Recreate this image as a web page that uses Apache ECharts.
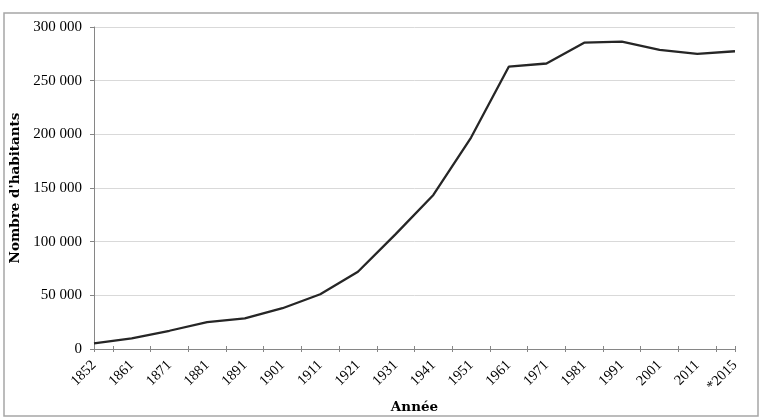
<!DOCTYPE html>
<html>
<head>
<meta charset="utf-8">
<script src="https://cdn.jsdelivr.net/npm/echarts@6/dist/echarts.min.js"></script>
<style>
  html, body { margin: 0; padding: 0; background: #fff; }
  #chart { width: 760px; height: 418px; }
</style>
</head>
<body>
<div id="chart"></div>
<script>
// années du recensement
var annees = ["1852", "1861", "1871", "1881", "1891", "1901", "1911", "1921", "1931",
  "1941", "1951", "1961", "1971", "1981", "1991", "2001", "2011", "*2015"];
// nombre d'habitants
var habitants = [5300, 10000, 17000, 25000, 28500, 38000, 51000, 72000, 107000,
  143500, 197000, 263000, 266000, 285400, 286300, 278600, 274900, 277400];
// graduations de l'axe vertical
var yTicks = [0, 50000, 100000, 150000, 200000, 250000, 300000];

// positions des petites marques entre les années (style Excel)
var tickPos = [0];
for (var i = 0; i < annees.length - 1; i++) tickPos.push(i + 0.5);
tickPos.push(annees.length - 1);

var serif = "Liberation Serif";
var titreStyle = { fontFamily: "DejaVu Serif", fontWeight: "bold", fontSize: 13.5, color: "#000" };
var myChart = echarts.init(document.getElementById("chart"));
var option = {
  animation: false,
  backgroundColor: "#fff",
  graphic: [{
    type: "rect",
    shape: { x: 4, y: 13, width: 754, height: 403 },
    style: { fill: "none", stroke: "#a6a6a6", lineWidth: 1.5 },
    silent: true
  }],
  grid: { left: 94, right: 25, top: 27, bottom: 69, outerBoundsMode: "none" },
  xAxis: [
    {
      type: "category",
      data: annees,
      boundaryGap: false,
      name: "Année",
      nameLocation: "middle",
      nameGap: 51,
      nameTextStyle: titreStyle,
      axisLine: { lineStyle: { color: "#868686", width: 1 } },
      axisTick: { show: false },
      axisLabel: {
        interval: 0, rotate: 45, margin: 14,
        fontFamily: serif, fontSize: 14.5, color: "#000"
      }
    },
    {
      // marques en croix sous l'axe
      type: "value", min: 0, max: annees.length - 1,
      position: "bottom",
      axisLine: { show: false },
      axisLabel: { show: false },
      splitLine: { show: false },
      axisTick: { show: true, length: 3, customValues: tickPos, lineStyle: { color: "#868686" } }
    },
    {
      type: "value", min: 0, max: annees.length - 1,
      position: "bottom",
      axisLine: { show: false },
      axisLabel: { show: false },
      splitLine: { show: false },
      axisTick: { show: true, inside: true, length: 3, customValues: tickPos, lineStyle: { color: "#868686" } }
    }
  ],
  yAxis: {
    type: "value",
    min: yTicks[0],
    max: yTicks[yTicks.length - 1],
    interval: yTicks[1] - yTicks[0],
    name: "Nombre d'habitants",
    nameLocation: "middle",
    nameGap: 69,
    nameTextStyle: titreStyle,
    axisLine: { show: true, lineStyle: { color: "#868686", width: 1 } },
    axisTick: { show: true, length: 4, lineStyle: { color: "#868686" } },
    splitLine: { lineStyle: { color: "#d9d9d9", width: 1 } },
    axisLabel: {
      margin: 12,
      fontFamily: serif, fontSize: 15, color: "#000",
      formatter: function (v) {
        return String(v).replace(/\B(?=(\d{3})+(?!\d))/g, " ");
      }
    }
  },
  series: [{
    type: "line",
    xAxisIndex: 0,
    data: habitants,
    symbol: "none",
    lineStyle: { color: "#262626", width: 2.3 }
  }]
};
myChart.setOption(option);
</script>
</body>
</html>
